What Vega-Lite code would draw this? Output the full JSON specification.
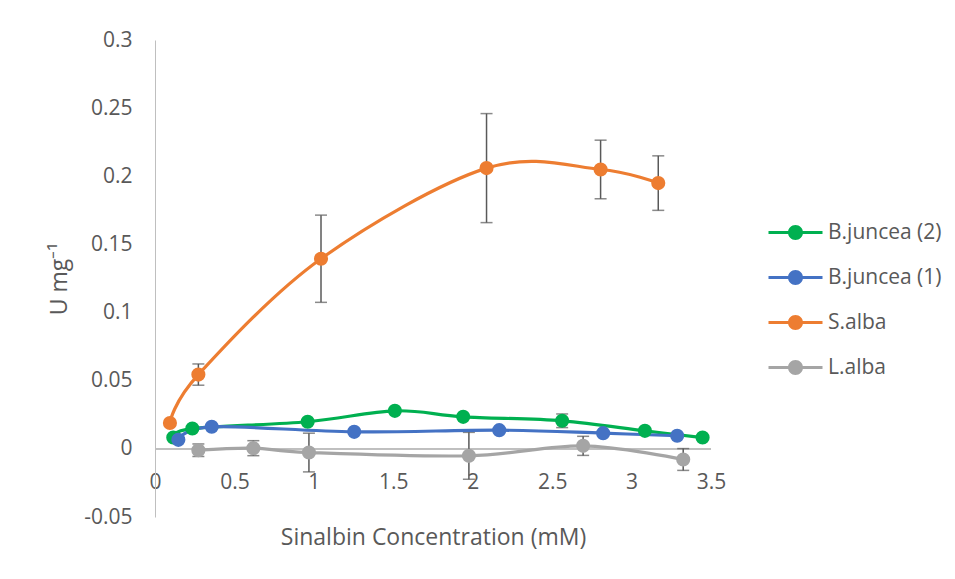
{
  "$schema": "https://vega.github.io/schema/vega-lite/v6.json",
  "width": 556,
  "height": 477,
  "autosize": {"type": "none"},
  "padding": {"left": 155, "top": 40, "right": 244, "bottom": 62},
  "background": "white",
  "config": {"view": {"stroke": null}},
  "data": {
    "values": [
      {"series": "B.juncea (2)", "x": 0.115, "y": 0.0083, "err": null},
      {"series": "B.juncea (2)", "x": 0.235, "y": 0.0149, "err": null},
      {"series": "B.juncea (2)", "x": 0.961, "y": 0.0199, "err": null},
      {"series": "B.juncea (2)", "x": 1.51, "y": 0.0279, "err": null},
      {"series": "B.juncea (2)", "x": 1.94, "y": 0.0235, "err": null},
      {"series": "B.juncea (2)", "x": 2.563, "y": 0.0206, "err": 0.005},
      {"series": "B.juncea (2)", "x": 3.084, "y": 0.0132, "err": null},
      {"series": "B.juncea (2)", "x": 3.447, "y": 0.0083, "err": null},
      {"series": "B.juncea (1)", "x": 0.147, "y": 0.0066, "err": null},
      {"series": "B.juncea (1)", "x": 0.357, "y": 0.0162, "err": null},
      {"series": "B.juncea (1)", "x": 1.254, "y": 0.0125, "err": null},
      {"series": "B.juncea (1)", "x": 2.167, "y": 0.0137, "err": null},
      {"series": "B.juncea (1)", "x": 2.821, "y": 0.0115, "err": null},
      {"series": "B.juncea (1)", "x": 3.287, "y": 0.0096, "err": null},
      {"series": "S.alba", "x": 0.094, "y": 0.019, "err": null},
      {"series": "S.alba", "x": 0.273, "y": 0.0545, "err": 0.0078},
      {"series": "S.alba", "x": 1.045, "y": 0.1395, "err": 0.032},
      {"series": "S.alba", "x": 2.087, "y": 0.206, "err": 0.04},
      {"series": "S.alba", "x": 2.805, "y": 0.205, "err": 0.0215},
      {"series": "S.alba", "x": 3.168, "y": 0.195, "err": 0.02},
      {"series": "L.alba", "x": 0.273, "y": -0.001, "err": 0.0046},
      {"series": "L.alba", "x": 0.619, "y": 0.0005, "err": 0.0055},
      {"series": "L.alba", "x": 0.969, "y": -0.0027, "err": 0.0142},
      {"series": "L.alba", "x": 1.976, "y": -0.0051, "err": 0.0172},
      {"series": "L.alba", "x": 2.695, "y": 0.0022, "err": 0.007},
      {"series": "L.alba", "x": 3.325, "y": -0.0078, "err": 0.008}
    ]
  },
  "layer": [
    {
      "mark": {"type": "rule", "color": "#BFBFBF", "strokeWidth": 1},
      "encoding": {"y": {"datum": 0, "type": "quantitative", "title": "U mg⁻¹"}}
    },
    {
      "transform": [{"filter": "datum.err > 0"}],
      "mark": {"type": "errorbar", "ticks": {"size": 12}, "thickness": 1.5, "color": "#595959"},
      "encoding": {
        "x": {"field": "x", "type": "quantitative", "title": "Sinalbin Concentration (mM)"},
        "y": {"field": "y", "type": "quantitative", "title": "U mg⁻¹"},
        "yError": {"field": "err"}
      }
    },
    {
      "mark": {"type": "line", "interpolate": "cardinal", "strokeWidth": 3.2, "strokeCap": "round"},
      "encoding": {
        "x": {
          "field": "x", "type": "quantitative",
          "title": "Sinalbin Concentration (mM)",
          "scale": {"domain": [0, 3.5], "nice": false, "zero": false},
          "axis": {
            "values": [0, 0.5, 1, 1.5, 2, 2.5, 3, 3.5],
            "format": "~g",
            "domain": false, "ticks": false, "tickSize": 0, "grid": false,
            "offset": -46, "labelPadding": 0,
            "labelFont": "Open Sans", "labelFontSize": 21, "labelColor": "#595959",
            "labelFlush": false, "labelOverlap": false,
            "titleFont": "Open Sans", "titleFontSize": 23, "titleFontWeight": "normal",
            "titleColor": "#595959", "titlePadding": 34
          }
        },
        "y": {
          "field": "y", "type": "quantitative",
          "title": "U mg⁻¹",
          "scale": {"domain": [-0.05, 0.3], "nice": false, "zero": false},
          "axis": {
            "values": [-0.05, 0, 0.05, 0.1, 0.15, 0.2, 0.25, 0.3],
            "labelExpr": "replace(format(datum.value, '~g'), '\u2212', '-')",
            "domain": true, "domainColor": "#BFBFBF", "domainWidth": 1,
            "ticks": false, "tickSize": 0, "grid": false,
            "labelPadding": 23,
            "labelFont": "Open Sans", "labelFontSize": 21, "labelColor": "#595959",
            "labelOverlap": false,
            "titleFont": "Open Sans", "titleFontSize": 23, "titleFontWeight": "normal",
            "titleColor": "#595959", "titlePadding": 12
          }
        },
        "color": {
          "field": "series", "type": "nominal",
          "scale": {"domain": ["B.juncea (2)", "B.juncea (1)", "S.alba", "L.alba"], "range": ["#00B050", "#4472C4", "#ED7D31", "#A5A5A5"]},
          "legend": {
            "title": null,
            "orient": "none", "legendX": 630, "legendY": 182,
            "symbolType": "M-2.7,-0.15H2.7V0.15H-2.7Z M0.75,0A0.75,0.75 0 1,1 -0.75,0A0.75,0.75 0 1,1 0.75,0Z",
            "symbolSize": 400, "symbolStrokeWidth": 0, "symbolOpacity": 1,
            "labelFont": "Open Sans", "labelFontSize": 21, "labelColor": "#595959",
            "labelOffset": 22, "rowPadding": 23, "labelLimit": 300,
            "encode": {"symbols": {"update": {"fill": {"scale": "color", "field": "value"}, "strokeWidth": {"value": 0}}}}
          }
        }
      }
    },
    {
      "mark": {"type": "circle", "size": 200, "opacity": 1},
      "encoding": {
        "x": {"field": "x", "type": "quantitative", "title": "Sinalbin Concentration (mM)"},
        "y": {"field": "y", "type": "quantitative", "title": "U mg⁻¹"},
        "color": {
          "field": "series", "type": "nominal",
          "legend": {
            "title": null,
            "orient": "none", "legendX": 630, "legendY": 182,
            "symbolType": "M-2.7,-0.15H2.7V0.15H-2.7Z M0.75,0A0.75,0.75 0 1,1 -0.75,0A0.75,0.75 0 1,1 0.75,0Z",
            "symbolSize": 400, "symbolStrokeWidth": 0, "symbolOpacity": 1,
            "labelFont": "Open Sans", "labelFontSize": 21, "labelColor": "#595959",
            "labelOffset": 22, "rowPadding": 23, "labelLimit": 300,
            "encode": {"symbols": {"update": {"fill": {"scale": "color", "field": "value"}, "strokeWidth": {"value": 0}}}}
          }
        }
      }
    }
  ]
}
